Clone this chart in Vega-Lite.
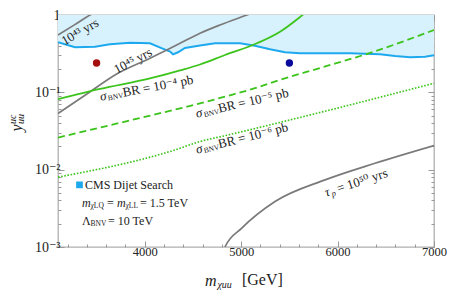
{
  "$schema": "https://vega.github.io/schema/vega-lite/v6.json",
  "width": 376,
  "height": 232,
  "autosize": {"type": "none"},
  "padding": {"left": 58, "top": 15, "right": 15, "bottom": 50},
  "background": "white",
  "config": {
    "font": "Liberation Serif, DejaVu Serif, serif",
    "view": {"stroke": "#b0b0b0", "strokeWidth": 1.3},
    "text": {"font": "Liberation Serif, DejaVu Serif, serif", "baseline": "middle", "align": "left", "color": "#222"}
  },
  "datasets": {
    "curves": [
      {"series": "cms", "m": 3100, "y": 0.444},
      {"series": "cms", "m": 3276, "y": 0.383},
      {"series": "cms", "m": 3484, "y": 0.389},
      {"series": "cms", "m": 3639, "y": 0.418},
      {"series": "cms", "m": 3847, "y": 0.439},
      {"series": "cms", "m": 4054, "y": 0.431},
      {"series": "cms", "m": 4179, "y": 0.371},
      {"series": "cms", "m": 4262, "y": 0.336},
      {"series": "cms", "m": 4293, "y": 0.31},
      {"series": "cms", "m": 4345, "y": 0.33},
      {"series": "cms", "m": 4417, "y": 0.375},
      {"series": "cms", "m": 4573, "y": 0.404},
      {"series": "cms", "m": 4729, "y": 0.431},
      {"series": "cms", "m": 4988, "y": 0.431},
      {"series": "cms", "m": 5143, "y": 0.401},
      {"series": "cms", "m": 5299, "y": 0.36},
      {"series": "cms", "m": 5455, "y": 0.33},
      {"series": "cms", "m": 5610, "y": 0.32},
      {"series": "cms", "m": 6129, "y": 0.32},
      {"series": "cms", "m": 6440, "y": 0.311},
      {"series": "cms", "m": 6596, "y": 0.295},
      {"series": "cms", "m": 6751, "y": 0.284},
      {"series": "cms", "m": 6907, "y": 0.289},
      {"series": "cms", "m": 7000, "y": 0.302},
      {"series": "g43", "m": 3100, "y": 0.552},
      {"series": "g43", "m": 3266, "y": 0.74},
      {"series": "g43", "m": 3432, "y": 1.0},
      {"series": "g43", "m": 3520, "y": 1.15},
      {"series": "g45", "m": 3100, "y": 0.0534},
      {"series": "g45", "m": 3411, "y": 0.0973},
      {"series": "g45", "m": 3691, "y": 0.168},
      {"series": "g45", "m": 4054, "y": 0.276},
      {"series": "g45", "m": 4366, "y": 0.431},
      {"series": "g45", "m": 4573, "y": 0.58},
      {"series": "g45", "m": 4780, "y": 0.743},
      {"series": "g45", "m": 5060, "y": 1.0},
      {"series": "g45", "m": 5150, "y": 1.1},
      {"series": "g50", "m": 4800, "y": 0.0008},
      {"series": "g50", "m": 4832, "y": 0.001},
      {"series": "g50", "m": 5006, "y": 0.00175},
      {"series": "g50", "m": 5351, "y": 0.00387},
      {"series": "g50", "m": 5870, "y": 0.00738},
      {"series": "g50", "m": 6388, "y": 0.0121},
      {"series": "g50", "m": 7000, "y": 0.0205},
      {"series": "s4", "m": 3100, "y": 0.0815},
      {"series": "s4", "m": 3536, "y": 0.1106},
      {"series": "s4", "m": 4054, "y": 0.151},
      {"series": "s4", "m": 4366, "y": 0.192},
      {"series": "s4", "m": 4573, "y": 0.229},
      {"series": "s4", "m": 4832, "y": 0.304},
      {"series": "s4", "m": 5164, "y": 0.431},
      {"series": "s4", "m": 5403, "y": 0.608},
      {"series": "s4", "m": 5610, "y": 0.942},
      {"series": "s4", "m": 5673, "y": 1.09},
      {"series": "s5", "m": 3100, "y": 0.026},
      {"series": "s5", "m": 3867, "y": 0.044},
      {"series": "s5", "m": 4573, "y": 0.072},
      {"series": "s5", "m": 4832, "y": 0.088},
      {"series": "s5", "m": 5143, "y": 0.113},
      {"series": "s5", "m": 5403, "y": 0.145},
      {"series": "s5", "m": 5818, "y": 0.2066},
      {"series": "s5", "m": 6368, "y": 0.333},
      {"series": "s5", "m": 7000, "y": 0.64},
      {"series": "s6", "m": 3100, "y": 0.008},
      {"series": "s6", "m": 4313, "y": 0.018},
      {"series": "s6", "m": 4573, "y": 0.0231},
      {"series": "s6", "m": 4832, "y": 0.0275},
      {"series": "s6", "m": 5787, "y": 0.0537},
      {"series": "s6", "m": 7000, "y": 0.131}
    ]
  },
  "encoding": {
    "x": {"field": "m", "type": "quantitative", "scale": {"domain": [3100, 7000], "nice": false, "zero": false}, "axis": null},
    "y": {"field": "y", "type": "quantitative", "scale": {"type": "log", "domain": [0.001, 1], "nice": false}, "axis": null}
  },
  "resolve": {"axis": {"x": "independent", "y": "independent"}},
  "layer": [
    {
      "data": {"name": "curves"},
      "transform": [{"filter": "datum.series === 'cms'"}],
      "mark": {"type": "area", "color": "#d8f2fd", "clip": true},
      "encoding": {
        "x": {"field": "m", "type": "quantitative", "scale": {"domain": [3100, 7000], "nice": false, "zero": false},
          "axis": {"orient": "bottom", "title": null, "grid": false, "domain": false,
            "values": [3200, 3400, 3600, 3800, 4000, 4200, 4400, 4600, 4800, 5000, 5200, 5400, 5600, 5800, 6000, 6200, 6400, 6600, 6800, 7000],
            "format": "d",
            "labelExpr": "datum.value % 1000 === 0 ? datum.label : ''",
            "tickSize": {"condition": {"test": "datum.value % 1000 === 0", "value": -6}, "value": -3},
            "tickColor": "#999", "labelFont": "Liberation Serif, DejaVu Serif, serif", "labelFontSize": 12.5, "labelColor": "#222", "labelPadding": 4, "labelFlush": false, "labelOverlap": false}},
        "y": {"field": "y", "type": "quantitative", "scale": {"type": "log", "domain": [0.001, 1], "nice": false},
          "axis": {"orient": "left", "title": null, "grid": false, "domain": false,
            "values": [0.001, 0.002, 0.003, 0.004, 0.005, 0.006, 0.007, 0.008, 0.009, 0.01, 0.02, 0.03, 0.04, 0.05, 0.06, 0.07, 0.08, 0.09, 0.1, 0.2, 0.3, 0.4, 0.5, 0.6, 0.7, 0.8, 0.9, 1],
            "labelExpr": "datum.value == 1 ? '1' : datum.value == 0.1 ? '10⁻¹' : datum.value == 0.01 ? '10⁻²' : datum.value == 0.001 ? '10⁻³' : ''",
            "tickSize": {"condition": {"test": "datum.value == 1 || datum.value == 0.1 || datum.value == 0.01 || datum.value == 0.001", "value": -6}, "value": -3},
            "tickColor": "#999", "labelFont": "Liberation Serif, DejaVu Serif, serif", "labelFontSize": 14, "labelColor": "#222", "labelPadding": 4, "labelOverlap": false, "labelFlush": false}},
        "y2": {"datum": 1}
      }
    },
    {
      "data": {"name": "curves"},
      "transform": [{"filter": "datum.series === 'cms'"}],
      "mark": {"type": "line", "color": "#1ea9ee", "strokeWidth": 2, "clip": true},
      "encoding": {
        "x": {"field": "m", "type": "quantitative", "scale": {"domain": [3100, 7000], "nice": false, "zero": false},
          "axis": {"orient": "top", "title": null, "grid": false, "domain": false, "labels": false,
            "values": [3200, 3400, 3600, 3800, 4000, 4200, 4400, 4600, 4800, 5000, 5200, 5400, 5600, 5800, 6000, 6200, 6400, 6600, 6800, 7000],
            "tickSize": {"condition": {"test": "datum.value % 1000 === 0", "value": -6}, "value": -3},
            "tickColor": "#999"}},
        "y": {"field": "y", "type": "quantitative", "scale": {"type": "log", "domain": [0.001, 1], "nice": false},
          "axis": {"orient": "right", "title": null, "grid": false, "domain": false, "labels": false,
            "values": [0.001, 0.002, 0.003, 0.004, 0.005, 0.006, 0.007, 0.008, 0.009, 0.01, 0.02, 0.03, 0.04, 0.05, 0.06, 0.07, 0.08, 0.09, 0.1, 0.2, 0.3, 0.4, 0.5, 0.6, 0.7, 0.8, 0.9, 1],
            "tickSize": {"condition": {"test": "datum.value == 1 || datum.value == 0.1 || datum.value == 0.01 || datum.value == 0.001", "value": -6}, "value": -3},
            "tickColor": "#999"}}
      }
    },
    {
      "data": {"name": "curves"},
      "transform": [{"filter": "datum.series === 'g43' || datum.series === 'g45' || datum.series === 'g50'"}],
      "mark": {"type": "line", "color": "#7a7a7a", "strokeWidth": 1.7, "clip": true, "interpolate": "monotone"},
      "encoding": {"detail": {"field": "series"}}
    },
    {
      "data": {"name": "curves"},
      "transform": [{"filter": "datum.series === 's4'"}],
      "mark": {"type": "line", "color": "#3cc41c", "strokeWidth": 1.8, "clip": true, "interpolate": "monotone"},
      "encoding": {}
    },
    {
      "data": {"name": "curves"},
      "transform": [{"filter": "datum.series === 's5'"}],
      "mark": {"type": "line", "color": "#3cc41c", "strokeWidth": 1.8, "clip": true, "interpolate": "monotone", "strokeDash": [7, 4]},
      "encoding": {}
    },
    {
      "data": {"name": "curves"},
      "transform": [{"filter": "datum.series === 's6'"}],
      "mark": {"type": "line", "color": "#3cc41c", "strokeWidth": 1.6, "clip": true, "interpolate": "monotone", "strokeDash": [1.6, 1.6]},
      "encoding": {}
    },
    {
      "data": {"values": [{"m": 3500, "y": 0.24}]},
      "mark": {"type": "circle", "color": "#a50f10", "size": 55, "opacity": 1},
      "encoding": {}
    },
    {
      "data": {"values": [{"m": 5500, "y": 0.24}]},
      "mark": {"type": "circle", "color": "#0a0a9c", "size": 55, "opacity": 1},
      "encoding": {}
    },
    {
      "data": {"values": [{"m": 3328, "y": 0.603}]},
      "mark": {"type": "text", "text": "10⁴³ yrs", "angle": -30, "align": "center", "fontSize": 13},
      "encoding": {}
    },
    {
      "data": {"values": [{"m": 3878, "y": 0.255}]},
      "mark": {"type": "text", "text": "10⁴⁵ yrs", "angle": -28, "align": "center", "fontSize": 13},
      "encoding": {}
    },
    {
      "data": {"values": [{"m": 3536, "y": 0.0872}]},
      "mark": {"type": "text", "text": "σ", "angle": -10.5, "fontSize": 13, "fontStyle": "italic"},
      "encoding": {}
    },
    {
      "data": {"values": [{"m": 3536, "y": 0.0872}]},
      "mark": {"type": "text", "text": "BNV", "angle": -10.5, "fontSize": 7.5, "dx": 7.5, "dy": 3},
      "encoding": {}
    },
    {
      "data": {"values": [{"m": 3536, "y": 0.0872}]},
      "mark": {"type": "text", "text": "BR = 10⁻⁴ pb", "angle": -10.5, "fontSize": 13, "dx": 23},
      "encoding": {}
    },
    {
      "data": {"values": [{"m": 4531, "y": 0.0526}]},
      "mark": {"type": "text", "text": "σ", "angle": -13, "fontSize": 13, "fontStyle": "italic"},
      "encoding": {}
    },
    {
      "data": {"values": [{"m": 4531, "y": 0.0526}]},
      "mark": {"type": "text", "text": "BNV", "angle": -13, "fontSize": 7.5, "dx": 7.5, "dy": 3},
      "encoding": {}
    },
    {
      "data": {"values": [{"m": 4531, "y": 0.0526}]},
      "mark": {"type": "text", "text": "BR = 10⁻⁵ pb", "angle": -13, "fontSize": 13, "dx": 23},
      "encoding": {}
    },
    {
      "data": {"values": [{"m": 4531, "y": 0.018}]},
      "mark": {"type": "text", "text": "σ", "angle": -14, "fontSize": 13, "fontStyle": "italic"},
      "encoding": {}
    },
    {
      "data": {"values": [{"m": 4531, "y": 0.018}]},
      "mark": {"type": "text", "text": "BNV", "angle": -14, "fontSize": 7.5, "dx": 7.5, "dy": 3},
      "encoding": {}
    },
    {
      "data": {"values": [{"m": 4531, "y": 0.018}]},
      "mark": {"type": "text", "text": "BR = 10⁻⁶ pb", "angle": -14, "fontSize": 13, "dx": 23},
      "encoding": {}
    },
    {
      "data": {"values": [{"m": 5869, "y": 0.005}]},
      "mark": {"type": "text", "text": "τ", "angle": -18, "fontSize": 13, "fontStyle": "italic"},
      "encoding": {}
    },
    {
      "data": {"values": [{"m": 5869, "y": 0.005}]},
      "mark": {"type": "text", "text": "p", "angle": -18, "fontSize": 8.5, "fontStyle": "italic", "dx": 6, "dy": 3},
      "encoding": {}
    },
    {
      "data": {"values": [{"m": 5869, "y": 0.005}]},
      "mark": {"type": "text", "text": "= 10⁵⁰ yrs", "angle": -18, "fontSize": 13, "dx": 13},
      "encoding": {}
    },
    {
      "data": {"values": [{"m": 3323, "y": 0.00636}]},
      "mark": {"type": "square", "color": "#1ea9ee", "size": 45, "opacity": 1},
      "encoding": {}
    },
    {
      "data": {"values": [{"m": 3380, "y": 0.00636}]},
      "mark": {"type": "text", "text": "CMS Dijet Search", "fontSize": 12},
      "encoding": {}
    },
    {
      "data": {"values": [{"m": 3349, "y": 0.00372}]},
      "mark": {"type": "text", "text": "m", "fontSize": 12, "fontStyle": "italic"},
      "encoding": {}
    },
    {
      "data": {"values": [{"m": 3349, "y": 0.00372}]},
      "mark": {"type": "text", "text": "χLQ", "fontSize": 7.5, "dx": 8.5, "dy": 3},
      "encoding": {}
    },
    {
      "data": {"values": [{"m": 3349, "y": 0.00372}]},
      "mark": {"type": "text", "text": "=", "fontSize": 12, "dx": 25},
      "encoding": {}
    },
    {
      "data": {"values": [{"m": 3349, "y": 0.00372}]},
      "mark": {"type": "text", "text": "m", "fontSize": 12, "fontStyle": "italic", "dx": 35},
      "encoding": {}
    },
    {
      "data": {"values": [{"m": 3349, "y": 0.00372}]},
      "mark": {"type": "text", "text": "χLL", "fontSize": 7.5, "dx": 43.5, "dy": 3},
      "encoding": {}
    },
    {
      "data": {"values": [{"m": 3349, "y": 0.00372}]},
      "mark": {"type": "text", "text": "= 1.5 TeV", "fontSize": 12, "dx": 58},
      "encoding": {}
    },
    {
      "data": {"values": [{"m": 3349, "y": 0.00218}]},
      "mark": {"type": "text", "text": "Λ", "fontSize": 12},
      "encoding": {}
    },
    {
      "data": {"values": [{"m": 3349, "y": 0.00218}]},
      "mark": {"type": "text", "text": "BNV", "fontSize": 7.5, "dx": 8.5, "dy": 3},
      "encoding": {}
    },
    {
      "data": {"values": [{"m": 3349, "y": 0.00218}]},
      "mark": {"type": "text", "text": "= 10 TeV", "fontSize": 12, "dx": 26},
      "encoding": {}
    },
    {
      "data": {"values": [{"m": 4624, "y": 0.001}]},
      "mark": {"type": "text", "text": "m", "fontSize": 16, "fontStyle": "italic", "dy": 34},
      "encoding": {}
    },
    {
      "data": {"values": [{"m": 4624, "y": 0.001}]},
      "mark": {"type": "text", "text": "χuu", "fontSize": 10, "fontStyle": "italic", "dx": 12.5, "dy": 38},
      "encoding": {}
    },
    {
      "data": {"values": [{"m": 4624, "y": 0.001}]},
      "mark": {"type": "text", "text": "[GeV]", "fontSize": 16, "dx": 37, "dy": 33},
      "encoding": {}
    },
    {
      "data": {"values": [{"m": 3100, "y": 0.0347}]},
      "mark": {"type": "text", "text": "y", "fontSize": 16, "fontStyle": "italic", "angle": 270, "align": "center", "dy": -41},
      "encoding": {}
    },
    {
      "data": {"values": [{"m": 3100, "y": 0.0347}]},
      "mark": {"type": "text", "text": "uc", "fontSize": 10, "fontStyle": "italic", "angle": 270, "dx": 4, "dy": -45},
      "encoding": {}
    },
    {
      "data": {"values": [{"m": 3100, "y": 0.0347}]},
      "mark": {"type": "text", "text": "uu", "fontSize": 10, "fontStyle": "italic", "angle": 270, "dx": 4, "dy": -37},
      "encoding": {}
    }
  ]
}
